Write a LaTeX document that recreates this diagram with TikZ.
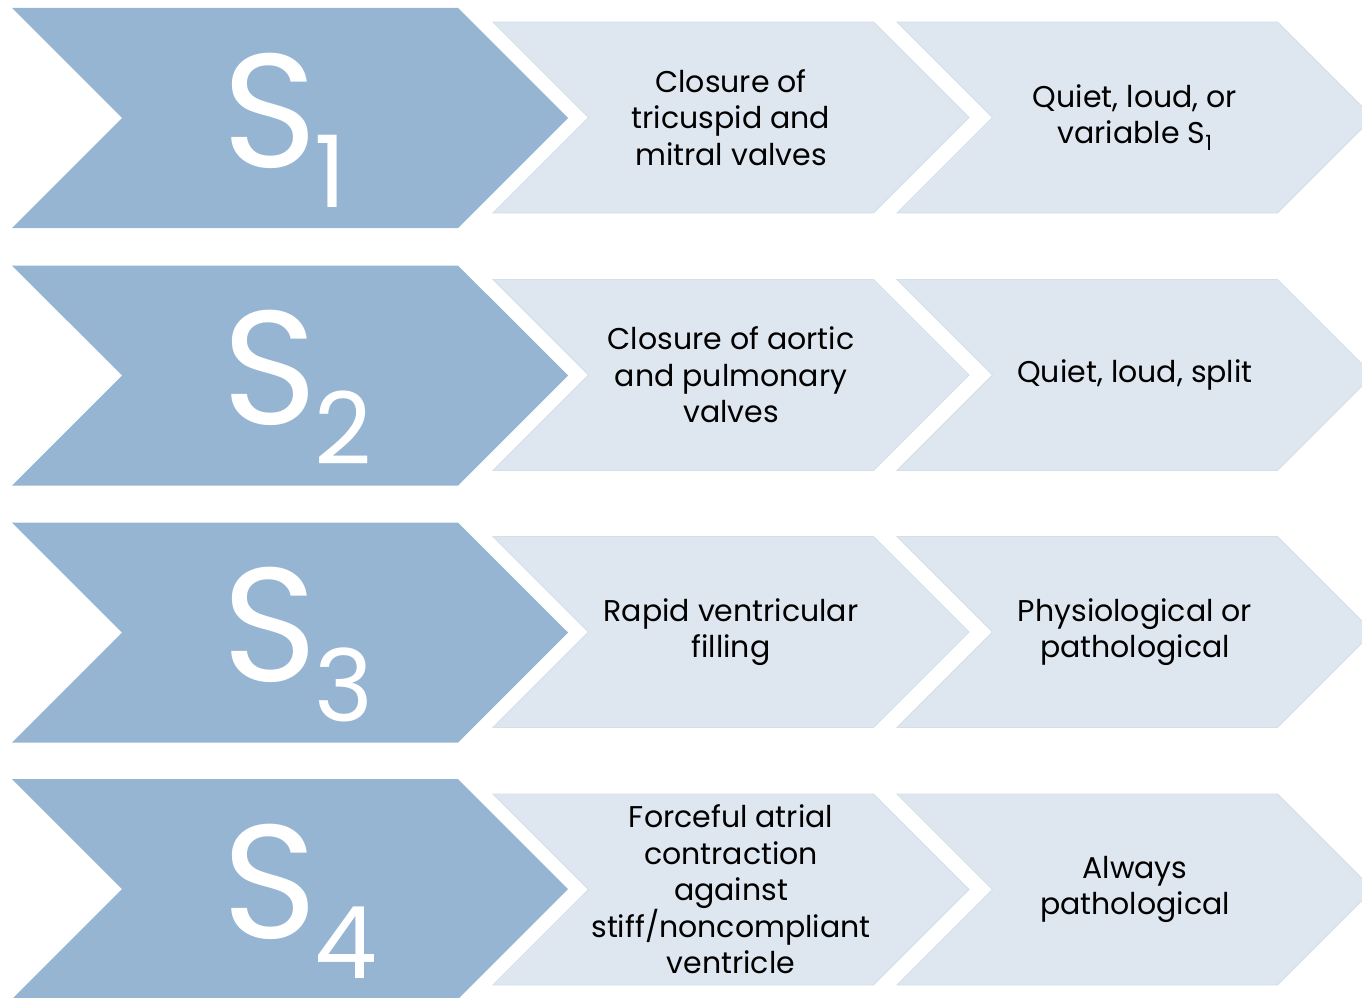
\documentclass[tikz,border=0pt]{standalone}
\usepackage{fontspec}
\setmainfont{Poppins}
\usetikzlibrary{shapes.symbols,positioning,calc}
\definecolor{bigblue}{HTML}{95B5D2}
\definecolor{paleblue}{HTML}{DEE7F0}
\definecolor{paleedge}{HTML}{D4DFEA}
\newcommand{\heartS}[1]{S\hspace{-3pt}\raisebox{-40pt}{\fontsize{100}{100}\selectfont #1}}
\tikzset{
    bigarrow/.style={
        signal,
        signal from=west,
        signal to=east,
        fill=bigblue,
        inner sep=0pt,
        minimum width=556pt,
        minimum height=220pt,
    },
    smallarrow/.style={
        signal,
        signal from=west,
        signal to=east,
        fill=paleblue,
        draw=paleedge,
        line width=0.8pt,
        inner sep=0pt,
        minimum width=476pt,
        minimum height=191pt,
    },
    info/.style={
        align=center,
        inner sep=0pt,
        font=\fontsize{30}{36.5}\selectfont,
    },
    sound/.style={
        anchor=base west,
        inner sep=0pt,
        text=white,
        font=\fontsize{162}{162}\selectfont,
    },
}

\begin{document}
\begin{tikzpicture}[x=1pt,y=-1pt]
    \useasboundingbox (0,0) rectangle (1362,998);
    \clip (0,0) rectangle (1362,998);
    % first sound
    \node [bigarrow] (big1) at (290,118) {};
    \node [smallarrow] (mid1) at (731,117.5) {};
    \node [smallarrow] (end1) at (1135,117.5) {};
    \node [sound] (s1) at ($(big1.center)+(-68,49)$) {\heartS{1}};
    \node [info] (cause1) at (mid1.center) {Closure of\\tricuspid and\\mitral valves};
    \node [info] (note1) at (end1.center) {Quiet, loud, or\\variable S\textsubscript{1}};
    % second sound
    \node [bigarrow] (big2) at (290,375.5) {};
    \node [smallarrow] (mid2) at (731,375) {};
    \node [smallarrow] (end2) at (1135,375) {};
    \node [sound] (s2) at ($(big2.center)+(-68,49)$) {\heartS{2}};
    \node [info] (cause2) at (mid2.center) {Closure of aortic\\and pulmonary\\valves};
    \node [info] (note2) at (end2.center) {Quiet, loud, split};
    % third sound
    \node [bigarrow] (big3) at (290,632.5) {};
    \node [smallarrow] (mid3) at (731,632) {};
    \node [smallarrow] (end3) at (1135,632) {};
    \node [sound] (s3) at ($(big3.center)+(-68,49)$) {\heartS{3}};
    \node [info] (cause3) at (mid3.center) {Rapid ventricular\\filling};
    \node [info] (note3) at (end3.center) {Physiological or\\pathological};
    % fourth sound
    \node [bigarrow] (big4) at (290,889) {};
    \node [smallarrow] (mid4) at (731,889.5) {};
    \node [smallarrow] (end4) at (1135,889.5) {};
    \node [sound] (s4) at ($(big4.center)+(-68,49)$) {\heartS{4}};
    \node [info] (cause4) at (mid4.center) {Forceful atrial\\contraction\\against\\stiff/noncompliant\\ventricle};
    \node [info] (note4) at (end4.center) {Always\\pathological};
\end{tikzpicture}
\end{document}
